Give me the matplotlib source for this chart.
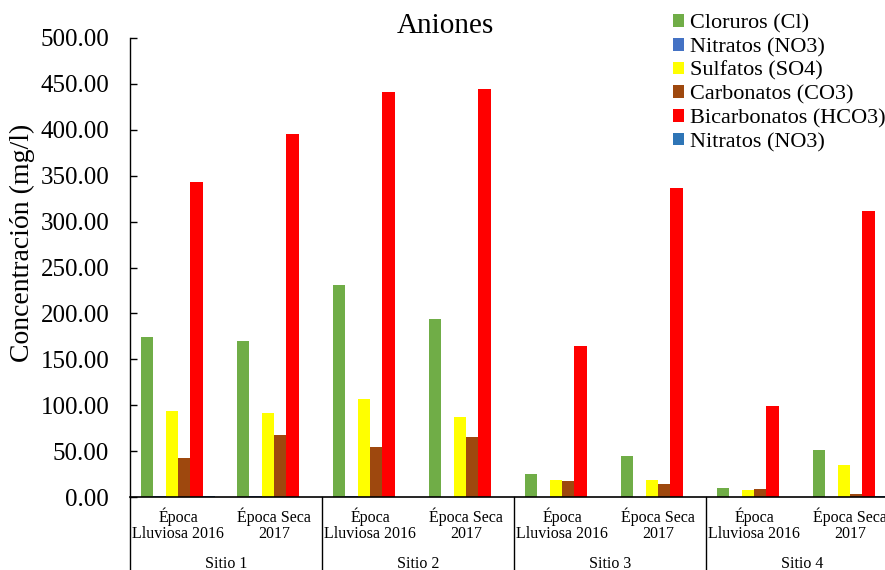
import matplotlib
matplotlib.use("Agg")
import matplotlib.pyplot as plt
import matplotlib.transforms as mtransforms
import numpy as np

plt.rcParams["font.family"] = ["Liberation Serif", "DejaVu Serif"]

# ----- data -----
epocas = ["Época\nLluviosa 2016", "Época Seca\n2017"] * 4
sitios = ["Sitio 1", "Sitio 2", "Sitio 3", "Sitio 4"]

series_names = ["Cloruros (Cl)", "Nitratos (NO3)", "Sulfatos (SO4)",
                "Carbonatos (CO3)", "Bicarbonatos (HCO3)", "Nitratos (NO3)"]
cloruros     = [174.0, 170.0, 231.0, 194.0, 25.0, 45.0, 10.0, 51.0]
nitratos     = [1.5, 1.2, 1.2, 0.5, 0.3, 0.3, 0.3, 0.5]
sulfatos     = [94.0, 91.0, 107.0, 87.0, 18.5, 18.5, 7.6, 35.0]
carbonatos   = [42.0, 67.5, 55.0, 65.0, 17.4, 14.0, 8.7, 3.3]
bicarbonatos = [343.0, 395.0, 441.0, 444.0, 165.0, 337.0, 99.5, 312.0]
nitratos2    = [1.5, 0.5, 0.3, 0.3, 0.3, 0.3, 0.3, 1.5]

values = [cloruros, nitratos, sulfatos, carbonatos, bicarbonatos, nitratos2]
colors = ["#70AD47", "#4472C4", "#FFFF00", "#9E480E", "#FF0000", "#2E75B6"]

# ----- figure -----
fig = plt.figure(figsize=(8.85, 5.70), dpi=100)
ax = fig.add_axes([130 / 885, 73 / 570, 768 / 885, 459 / 570])

x = np.arange(len(epocas))
w = 0.13
handles = []
for k, (vals, col, name) in enumerate(zip(values, colors, series_names)):
    h = ax.bar(x + (k - 2.5) * w, vals, width=w, color=col, label=name)
    handles.append(h)

ax.set_xlim(-0.5, len(epocas) - 0.5)
ax.set_ylim(0, 500)
ax.set_yticks(np.arange(0, 501, 50))
ax.set_yticklabels([f"{v:.2f}" for v in np.arange(0, 501, 50)], fontsize=18)
ax.tick_params(axis="y", direction="in", length=5, pad=15, width=1)
ax.set_xticks([])
for s in ["top", "right"]:
    ax.spines[s].set_visible(False)
ax.spines["left"].set_linewidth(1.0)
ax.spines["bottom"].set_linewidth(1.2)

# two-level category labels
trans = mtransforms.blended_transform_factory(ax.transData, ax.transAxes)
for i, lab in enumerate(epocas):
    ax.text(i, -0.022, lab, transform=trans, ha="center", va="top",
            fontsize=11.5, linespacing=1.05)
for j, s in enumerate(sitios):
    ax.text(2 * j + 0.5, -0.145, s, transform=trans, ha="center",
            va="center", fontsize=11.5)
for xb in [-0.5, 1.5, 3.5, 5.5, 7.5]:
    ax.plot([xb, xb], [0, -0.17], transform=trans, color="black",
            linewidth=1.0, clip_on=False)

fig.text(445 / 885, 1 - 26 / 570, "Aniones", ha="center", va="center",
         fontsize=21)
fig.text(22 / 885, 1 - 243 / 570, "Concentración (mg/l)", rotation=90,
         ha="center", va="center", fontsize=20)

fig.legend(handles=handles, loc="upper left",
           bbox_to_anchor=(662 / 885, 1 - 3 / 570), frameon=False,
           fontsize=16, handlelength=0.5, handleheight=0.5,
           handletextpad=0.25, labelspacing=0.2, borderpad=0.0)

fig.savefig("out.png", dpi=100)
